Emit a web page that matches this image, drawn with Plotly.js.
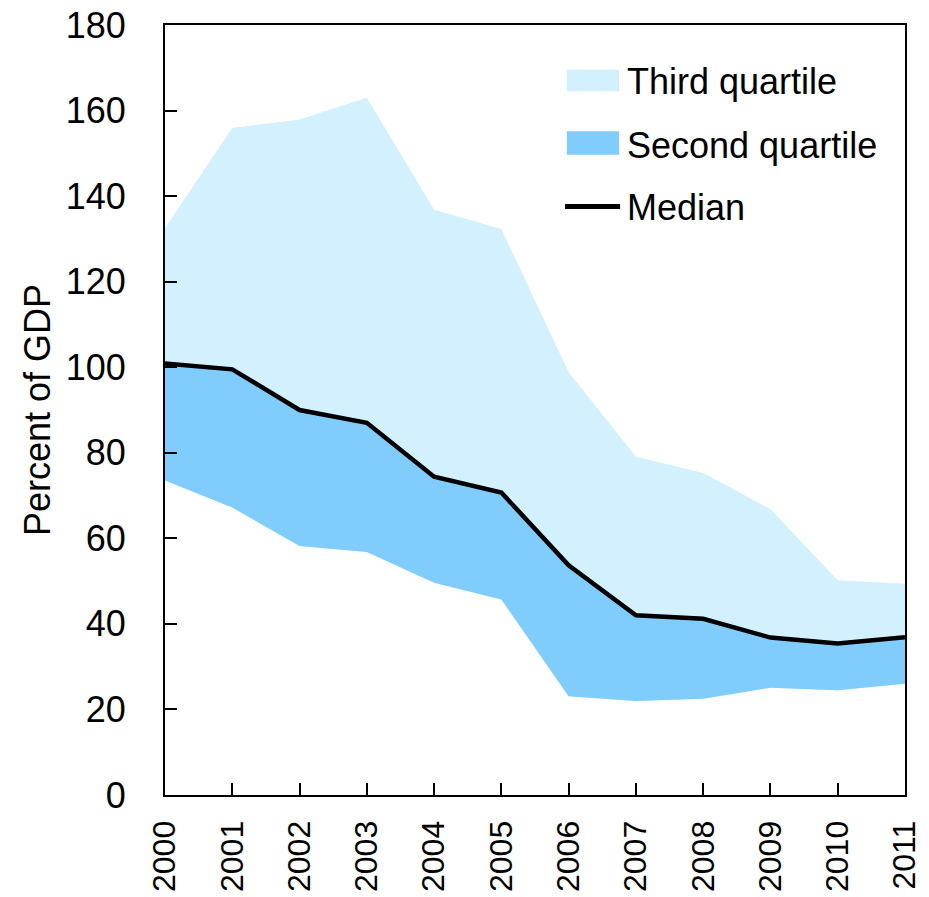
<!DOCTYPE html>
<html>
<head>
<meta charset="utf-8">
<script src="https://cdn.plot.ly/plotly-3.0.1.min.js"></script>
<style>html,body{margin:0;padding:0;background:#fff;}#chart{width:929px;height:897px;}</style>
</head>
<body>
<div id="chart"></div>
<script>
const years = [2000, 2001, 2002, 2003, 2004, 2005, 2006, 2007, 2008, 2009, 2010, 2011];
const yearLabels = ["2000","2001","2002","2003","2004","2005","2006","2007","2008","2009","2010","2011"];
const firstQuartile = [73.5, 67.2, 58.2, 56.8, 49.6, 45.7, 23.1, 22.0, 22.5, 25.1, 24.5, 26.0];
const median = [100.9, 99.5, 90.0, 87.0, 74.4, 70.7, 53.7, 42.0, 41.2, 36.8, 35.4, 36.9];
const thirdQuartile = [132.5, 155.9, 157.9, 163.0, 136.8, 132.3, 98.8, 79.1, 75.3, 66.8, 50.2, 49.4];
const yTicks = [0, 20, 40, 60, 80, 100, 120, 140, 160, 180];

const FONT = '"Liberation Sans Narrow", "Arial Narrow", "Liberation Sans", Arial, sans-serif';
const FS = 36;
const LIGHT = '#D2F0FD';
const DARK = '#80CCFC';

const traces = [
  {x: years, y: firstQuartile, mode: 'lines', line: {width: 0}, showlegend: false, hoverinfo: 'skip'},
  {x: years, y: thirdQuartile, mode: 'lines', line: {width: 0}, fill: 'tonexty', fillcolor: LIGHT, name: 'Third quartile', showlegend: false},
  {x: years, y: firstQuartile, mode: 'lines', line: {width: 0}, showlegend: false, hoverinfo: 'skip'},
  {x: years, y: median, mode: 'lines', line: {width: 0}, fill: 'tonexty', fillcolor: DARK, name: 'Second quartile', showlegend: false},
  {x: years, y: median, mode: 'lines', line: {color: '#000', width: 4.5}, name: 'Median', showlegend: false}
];

const layout = {
  width: 929, height: 897,
  margin: {l: 165, r: 24, t: 25, b: 102},
  paper_bgcolor: '#fff', plot_bgcolor: '#fff',
  font: {family: FONT, size: FS, color: '#000'},
  showlegend: false,
  xaxis: {
    range: [2000, 2011], tickmode: 'array', tickvals: years, ticktext: yearLabels,
    tickangle: -90, ticks: 'inside', ticklen: 12, tickwidth: 2, tickcolor: '#000',
    showline: true, linecolor: '#000', linewidth: 2, mirror: true,
    showgrid: false, zeroline: false, ticklabelstandoff: 11,
    tickfont: {family: FONT, size: 32, color: '#000'}
  },
  yaxis: {
    range: [0, 180], tickmode: 'array', tickvals: yTicks,
    ticks: 'inside', ticklen: 12, tickwidth: 2, tickcolor: '#000',
    showline: true, linecolor: '#000', linewidth: 2, mirror: true,
    showgrid: false, zeroline: false, ticklabelstandoff: 30,
    tickfont: {family: FONT, size: FS, color: '#000'},
    title: {text: 'Percent of GDP', font: {family: FONT, size: FS, color: '#000'}, standoff: 4}
  },
  shapes: [
    {type: 'rect', xref: 'paper', yref: 'paper', x0: 0.543, x1: 0.6136, y0: 0.914, y1: 0.942, fillcolor: LIGHT, line: {width: 0}},
    {type: 'rect', xref: 'paper', yref: 'paper', x0: 0.543, x1: 0.6136, y0: 0.8316, y1: 0.862, fillcolor: DARK, line: {width: 0}},
    {type: 'line', xref: 'paper', yref: 'paper', x0: 0.5406, x1: 0.615, y0: 0.7644, y1: 0.7644, line: {color: '#000', width: 5}}
  ],
  annotations: [
    {xref: 'paper', yref: 'paper', x: 0.6217, y: 0.9265, xanchor: 'left', yanchor: 'middle', text: 'Third quartile', showarrow: false, font: {family: FONT, size: FS, color: '#000'}},
    {xref: 'paper', yref: 'paper', x: 0.6217, y: 0.844, xanchor: 'left', yanchor: 'middle', text: 'Second quartile', showarrow: false, font: {family: FONT, size: FS, color: '#000'}},
    {xref: 'paper', yref: 'paper', x: 0.6217, y: 0.7627, xanchor: 'left', yanchor: 'middle', text: 'Median', showarrow: false, font: {family: FONT, size: FS, color: '#000'}}
  ]
};

Plotly.newPlot('chart', traces, layout, {displayModeBar: false, staticPlot: true});
</script>
</body>
</html>
